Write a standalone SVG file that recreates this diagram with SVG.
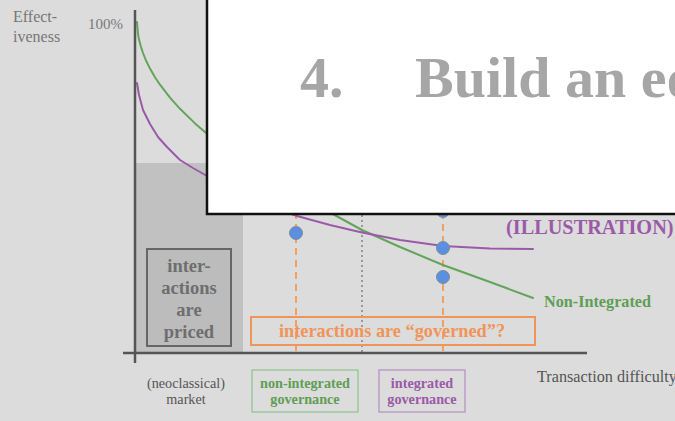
<svg xmlns="http://www.w3.org/2000/svg" width="675" height="421" viewBox="0 0 675 421">
<style>
.lbl{font-family:"Liberation Serif","Times New Roman",serif}
.gray{fill:#6e6e6e}
.b{font-weight:bold}
.dot{fill:#5b8fe0;stroke:#7d8c9c;stroke-width:1}
.curve{fill:none;stroke-width:2;stroke-linejoin:round;stroke-linecap:round}
.odash{stroke:#f0a060;stroke-width:2;stroke-dasharray:7,5;fill:none}
</style>
<rect x="0" y="0" width="675" height="421" fill="#dcdcdc"/>
<g id="priced-region">
<rect x="136" y="163" width="107" height="190" fill="#c1c1c1"/>
</g>
<g id="connectors">
<line class="odash" x1="296" y1="200" x2="296" y2="353"/>
<line class="odash" x1="443" y1="200" x2="443" y2="353"/>
<line x1="362" y1="200" x2="362" y2="353" stroke="#555" stroke-width="1" stroke-dasharray="2,3"/>
<path id="green-curve" class="curve" stroke="#62a55a" d="M137,22 L138,34 L139,39.6 L141,47 L143,53 L146,60.5 L150,68.6 L155,77.2 L160,84.7 L170,97.7 L180,108.8 L195,123.4 L210,136.3 L230,151.7 L250,165.5 L275,181.2 L300,196 L330,212.5 L362,230 L400,247 L443,265 L490,282 L533,298"/>
<path id="purple-curve" class="curve" stroke="#9b5aa8" d="M137,83 L139,95 L143,110 L150,124 L158,137 L167,147 L180,160 L193,168 L207,176 L230,190 L260,203 L297,216 L330,225 L362,232.5 L400,240 L443,246 L490,248.5 L533,249"/>
</g>
<g id="axes" stroke="#555" stroke-width="2.5">
<line x1="135" y1="10" x2="135" y2="363"/>
<line x1="123" y1="353" x2="587" y2="353"/>
</g>
<g id="dots">
<circle class="dot" cx="296" cy="233" r="6.5"/>
<circle class="dot" cx="443" cy="211" r="6.5"/>
<circle class="dot" cx="443" cy="248" r="6.5"/>
<circle class="dot" cx="443" cy="277" r="6.5"/>
</g>
<g id="y-label" class="lbl" fill="#777">
<text x="13" y="22" font-size="16">Effect-</text>
<text x="13" y="42" font-size="16">iveness</text>
<text x="88" y="29" font-size="15">100%</text>
</g>
<g id="priced-box">
<rect x="147" y="249" width="84" height="97" fill="#bcbcbc" stroke="#666" stroke-width="2"/>
<text class="lbl b gray" font-size="18.5" text-anchor="middle"><tspan x="189" y="272">inter-</tspan><tspan x="189" y="294">actions</tspan><tspan x="189" y="316">are</tspan><tspan x="189" y="338">priced</tspan></text>
</g>
<g id="governed-box">
<rect x="251" y="317" width="284" height="28" fill="none" stroke="#f0955a" stroke-width="2"/>
<text class="lbl b" x="392" y="337" font-size="18.3" fill="#f0955a" text-anchor="middle">interactions are “governed”?</text>
</g>
<g id="non-integrated-label">
<text class="lbl b" x="544" y="307" font-size="16.2" fill="#5f9e55">Non-Integrated</text>
</g>
<g id="illustration-label">
<text class="lbl b" x="506" y="234" font-size="20.3" fill="#9b5aa8">(ILLUSTRATION)</text>
</g>
<g id="market-label">
<text class="lbl" font-size="14.2" fill="#555" text-anchor="middle"><tspan x="186" y="388">(neoclassical)</tspan><tspan x="186" y="404">market</tspan></text>
</g>
<g id="non-integrated-governance">
<rect x="252" y="370" width="106" height="42" fill="none" stroke="#8cc488" stroke-width="1.2"/>
<text class="lbl b" font-size="14.2" fill="#5f9e55" text-anchor="middle"><tspan x="305" y="388">non-integrated</tspan><tspan x="305" y="404">governance</tspan></text>
</g>
<g id="integrated-governance">
<rect x="379" y="370" width="86" height="42" fill="none" stroke="#b58cc0" stroke-width="1.2"/>
<text class="lbl b" font-size="14.2" fill="#9b5aa8" text-anchor="middle"><tspan x="422" y="388">integrated</tspan><tspan x="422" y="404">governance</tspan></text>
</g>
<g id="x-label">
<text class="lbl" x="537" y="382" font-size="16.2" fill="#555">Transaction difficulty</text>
</g>
<g id="title-overlay">
<rect x="207" y="-3" width="472" height="217" fill="#fff" stroke="#111" stroke-width="2.5"/>
<text class="lbl b" x="300" y="97" font-size="58" fill="#a6a6a6">4.</text>
<text class="lbl b" x="415" y="97" font-size="58" fill="#a6a6a6">Build an eq</text>
</g>
</svg>
